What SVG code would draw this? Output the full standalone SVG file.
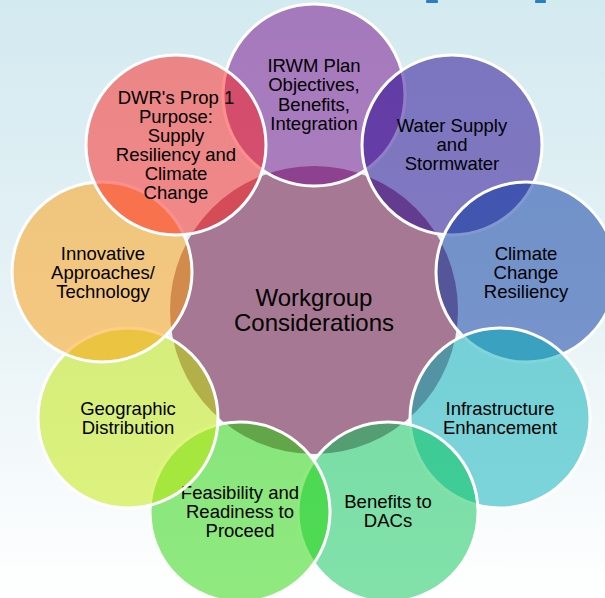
<svg xmlns="http://www.w3.org/2000/svg" width="605" height="598" viewBox="0 0 605 598">
<defs>
<linearGradient id="bg" x1="0" y1="0" x2="0" y2="1">
<stop offset="0" stop-color="#d3eaf0"/>
<stop offset="0.5" stop-color="#e6f2f6"/>
<stop offset="1" stop-color="#ffffff"/>
</linearGradient>
<style>
.o{fill-opacity:0.5;stroke:#ffffff;stroke-width:3}
.t{font-family:"Liberation Sans",Arial,sans-serif;font-size:18.5px;fill:#000000;text-anchor:middle}
.c{font-family:"Liberation Sans",Arial,sans-serif;font-size:24px;fill:#000000;text-anchor:middle}
</style>
</defs>
<rect x="0" y="0" width="605" height="598" fill="url(#bg)"/>
<rect x="426" y="0" width="12" height="3" rx="1" fill="#2a7fc4"/>
<rect x="535" y="0" width="11" height="3" rx="1" fill="#2a7fc4"/>
<g id="center">
<circle cx="314" cy="310" r="144" fill="#a77893"/>
<text class="c" x="314"><tspan x="314" y="305.5">Workgroup</tspan><tspan x="314" y="330.5">Considerations</tspan></text>
</g>
<g id="irwm">
<circle class="o" cx="314" cy="95" r="91" fill="#760a8a"/>
<text class="t"><tspan x="314" y="71.5">IRWM Plan</tspan><tspan x="314" y="91">Objectives,</tspan><tspan x="314" y="110.5">Benefits,</tspan><tspan x="314" y="129.5">Integration</tspan></text>
</g>
<g id="water">
<circle class="o" cx="452" cy="145" r="90" fill="#20008d"/>
<text class="t"><tspan x="452" y="131.5">Water Supply</tspan><tspan x="452" y="150.5">and</tspan><tspan x="452" y="169.5">Stormwater</tspan></text>
</g>
<g id="climate">
<circle class="o" cx="526" cy="272" r="90" fill="#0434a0"/>
<text class="t"><tspan x="526" y="259.5">Climate</tspan><tspan x="526" y="278.5">Change</tspan><tspan x="526" y="297.5">Resiliency</tspan></text>
</g>
<g id="infrastructure">
<circle class="o" cx="500" cy="418" r="90" fill="#00aeb6"/>
<text class="t"><tspan x="500" y="414.5">Infrastructure</tspan><tspan x="500" y="433.5">Enhancement</tspan></text>
</g>
<g id="benefits">
<circle class="o" cx="388" cy="512" r="90" fill="#04c453"/>
<text class="t"><tspan x="388" y="507.5">Benefits to</tspan><tspan x="388" y="526.5">DACs</tspan></text>
</g>
<g id="feasibility">
<circle class="o" cx="240" cy="512" r="90" fill="#20d400"/>
<text class="t"><tspan x="240" y="498.5">Feasibility and</tspan><tspan x="240" y="517.5">Readiness to</tspan><tspan x="240" y="536.5">Proceed</tspan></text>
</g>
<g id="geographic">
<circle class="o" cx="128" cy="418" r="90" fill="#c2e800"/>
<text class="t"><tspan x="128" y="414.5">Geographic</tspan><tspan x="128" y="433.5">Distribution</tspan></text>
</g>
<g id="innovative">
<circle class="o" cx="102" cy="272" r="90" fill="#ff9c08"/>
<text class="t"><tspan x="103" y="259.5">Innovative</tspan><tspan x="103" y="278.5">Approaches/</tspan><tspan x="103" y="297.5">Technology</tspan></text>
</g>
<g id="dwr">
<circle class="o" cx="176" cy="145" r="90" fill="#ff201b"/>
<text class="t"><tspan x="176" y="103.5">DWR's Prop 1</tspan><tspan x="176" y="122.5">Purpose:</tspan><tspan x="176" y="141.5">Supply</tspan><tspan x="176" y="160.5">Resiliency and</tspan><tspan x="176" y="179.5">Climate</tspan><tspan x="176" y="198.5">Change</tspan></text>
</g>
</svg>
